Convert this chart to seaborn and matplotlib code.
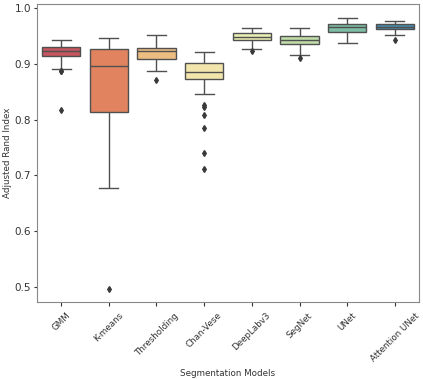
"""Boxplot of Adjusted Rand Index per segmentation model."""
import pandas as pd
import matplotlib
matplotlib.use('Agg')
import matplotlib.pyplot as plt
import seaborn as sns

models = ['GMM', 'K-means', 'Thresholding', 'Chan-Vese',
          'DeepLabv3', 'SegNet', 'UNet', 'Attention UNet']

gmm = [0.817, 0.886, 0.887, 0.891, 0.905, 0.914, 0.916, 0.918, 0.919, 0.921, 0.922,
       0.923, 0.925, 0.926, 0.928, 0.930, 0.932, 0.935, 0.938, 0.940, 0.943]
kmeans = [0.498, 0.678, 0.720, 0.760, 0.790, 0.814, 0.830, 0.850, 0.870, 0.885, 0.896,
          0.905, 0.910, 0.915, 0.920, 0.926, 0.930, 0.935, 0.938, 0.942, 0.945]
thresholding = [0.870, 0.8875, 0.895, 0.900, 0.905, 0.908, 0.911, 0.914, 0.917, 0.920, 0.922,
                0.923, 0.924, 0.925, 0.926, 0.927, 0.930, 0.935, 0.940, 0.945, 0.951]
chan_vese = [0.712, 0.741, 0.784, 0.809, 0.823, 0.826, 0.845, 0.873, 0.875, 0.877, 0.879,
             0.880, 0.882, 0.883, 0.8845, 0.886, 0.888, 0.890, 0.893, 0.896, 0.899,
             0.901, 0.904, 0.907, 0.910, 0.913, 0.916, 0.919, 0.921]
deeplab = [0.923, 0.926, 0.930, 0.935, 0.939, 0.942, 0.943, 0.944, 0.945, 0.946, 0.948,
           0.949, 0.950, 0.951, 0.952, 0.954, 0.956, 0.958, 0.960, 0.962, 0.964]
segnet = [0.9095, 0.9155, 0.920, 0.926, 0.931, 0.935, 0.937, 0.939, 0.940, 0.942, 0.943,
          0.944, 0.945, 0.946, 0.948, 0.950, 0.952, 0.955, 0.958, 0.961, 0.964]
unet = [0.9375, 0.942, 0.946, 0.950, 0.953, 0.956, 0.958, 0.960, 0.962, 0.963, 0.965,
        0.966, 0.967, 0.968, 0.970, 0.971, 0.973, 0.975, 0.977, 0.980, 0.982]
att_unet = [0.942, 0.951, 0.954, 0.957, 0.959, 0.961, 0.962, 0.963, 0.964, 0.965, 0.9655,
            0.966, 0.967, 0.968, 0.969, 0.970, 0.971, 0.972, 0.973, 0.975, 0.976]

scores = [gmm, kmeans, thresholding, chan_vese, deeplab, segnet, unet, att_unet]

rows = []
for name, vals in zip(models, scores):
    for v in vals:
        rows.append({'model': name, 'ari': v})
df = pd.DataFrame(rows)

fig = plt.figure(figsize=(4.23, 3.79), dpi=100)
ax = fig.add_axes([0.088, 0.203, 0.902, 0.786])
sns.boxplot(data=df, x='model', y='ari', hue='model', order=models,
            palette='Spectral', legend=False, ax=ax, width=0.8,
            linewidth=1.0, linecolor='#505050',
            flierprops=dict(marker='d', markersize=3, markerfacecolor='#3a3a3a',
                            markeredgecolor='#3a3a3a'))
ax.set_xlabel('Segmentation Models', fontsize=6.3, color='#333333', labelpad=4)
ax.set_ylabel('Adjusted Rand Index', fontsize=6.3, color='#333333', labelpad=2)
ax.tick_params(axis='y', labelsize=7.5, length=2.5, pad=2, colors='#333333')
ax.tick_params(axis='x', labelsize=6.3, length=3, colors='#333333')
plt.setp(ax.get_xticklabels(), rotation=45)
for s in ax.spines.values():
    s.set_color('#888888')
fig.savefig('out.png', dpi=100)
